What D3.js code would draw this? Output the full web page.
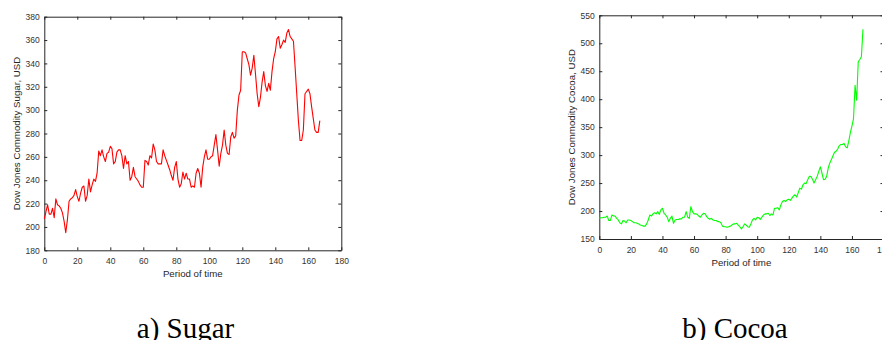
<!DOCTYPE html>
<html>
<head>
<meta charset="utf-8">
<script src="https://cdn.jsdelivr.net/npm/d3@7"></script>
<style>
  body { margin: 0; background: #fff; }
  svg { display: block; }
  .axis text { font-family: "Liberation Sans", Arial, sans-serif; font-size: 8.5px; fill: #333; }
  .axis path, .axis line { stroke: #262626; }
  .label { font-family: "Liberation Sans", Arial, sans-serif; font-size: 9.7px; fill: #262626; }
  .caption { font-size: 29px; fill: #000; }
</style>
</head>
<body>
<div id="chart"></div>
<script>
// Dow Jones Commodity Sugar, USD (period 0..167)
const sugar = [
  207, 213, 219, 211, 211, 216, 208, 224, 219, 218,
  216, 212, 205, 195, 206, 222, 224, 225, 227, 232,
  226, 222, 229, 234, 235, 222, 227, 241, 230, 236,
  241, 239, 246, 265, 261, 266, 260, 256, 263, 264,
  269, 267, 254, 256, 264, 266, 266, 261, 250, 261,
  254, 256, 240, 243, 251, 243, 241, 239, 236, 234,
  234, 257, 256, 253, 261, 259, 271, 266, 256, 254,
  254, 254, 266, 261, 257, 253, 249, 244, 240, 251,
  256, 241, 234, 237, 247, 241, 246, 241, 241, 234,
  235, 234, 246, 250, 246, 234, 251, 260, 266, 258,
  258, 260, 261, 270, 279, 266, 252, 263, 270, 283,
  270, 263, 262, 277, 281, 276, 278, 300, 313, 317,
  350, 350, 349, 344, 339, 330, 336, 347, 331, 314,
  303, 311, 324, 333, 321, 316, 323, 317, 333, 344,
  350, 361, 363, 353, 356, 360, 358, 366, 369, 363,
  361, 359, 337, 314, 291, 274, 274, 283, 314, 316,
  318, 314, 303, 293, 283, 281, 281, 291
];

// Dow Jones Commodity Cocoa, USD (period 0..167)
const cocoa = [
  187, 188, 188, 189, 189, 191, 183, 183, 193, 191,
  191, 187, 184, 179, 177, 183, 182, 179, 184, 184,
  183, 181, 179, 179, 178, 177, 175, 174, 173, 173,
  177, 184, 193, 191, 195, 197, 195, 199, 194, 202,
  205, 196, 193, 189, 181, 187, 191, 178, 184, 185,
  185, 186, 186, 189, 189, 199, 189, 187, 208, 199,
  195, 195, 194, 191, 189, 193, 196, 195, 190, 187,
  185, 187, 184, 183, 183, 181, 181, 179, 173, 172,
  172, 171, 172, 173, 175, 177, 177, 178, 175, 172,
  168, 172, 177, 175, 172, 171, 177, 184, 187, 184,
  189, 188, 185, 189, 193, 195, 195, 196, 192, 195,
  193, 205, 205, 206, 202, 211, 217, 219, 217, 220,
  221, 219, 223, 227, 229, 225, 233, 241, 239, 247,
  250, 249, 256, 262, 262, 257, 250, 256, 262, 271,
  279, 268, 256, 257, 262, 277, 286, 292, 299, 305,
  307, 311, 317, 319, 319, 321, 315, 313, 325, 340,
  352, 365, 425, 398, 467, 471, 476, 525
];

const xTicks = [0, 20, 40, 60, 80, 100, 120, 140, 160, 180];
const sugarTicks = [180, 200, 220, 240, 260, 280, 300, 320, 340, 360, 380];
const cocoaTicks = [150, 200, 250, 300, 350, 400, 450, 500, 550];

const svg = d3.select("#chart").append("svg")
  .attr("width", 882)
  .attr("height", 340);

function drawPanel(opts) {
  const x = d3.scaleLinear().domain([0, 180]).range([opts.left, opts.right]);
  const y = d3.scaleLinear().domain(opts.yDomain).range([opts.bottom, opts.top]);
  const g = svg.append("g");

  // frame with inward ticks on all four sides
  g.append("g").attr("class", "axis")
    .attr("transform", "translate(0," + opts.bottom + ")")
    .call(d3.axisBottom(x).tickValues(xTicks).tickSizeInner(-3).tickSizeOuter(0).tickPadding(8));
  g.append("g").attr("class", "axis")
    .attr("transform", "translate(0," + opts.top + ")")
    .call(d3.axisTop(x).tickValues(xTicks).tickSizeInner(-3).tickSizeOuter(0).tickFormat(""));
  g.append("g").attr("class", "axis")
    .attr("transform", "translate(" + opts.left + ",0)")
    .call(d3.axisLeft(y).tickValues(opts.yTicks).tickSizeInner(-3).tickSizeOuter(0).tickPadding(4.5));
  g.append("g").attr("class", "axis")
    .attr("transform", "translate(" + opts.right + ",0)")
    .call(d3.axisRight(y).tickValues(opts.yTicks).tickSizeInner(-3).tickSizeOuter(0).tickFormat(""));

  const line = d3.line()
    .x((d, i) => x(i))
    .y(d => y(d));

  g.append("path")
    .datum(opts.data)
    .attr("fill", "none")
    .attr("stroke", opts.color)
    .attr("stroke-width", 1.1)
    .attr("stroke-linejoin", "round")
    .attr("d", line);

  // axis labels
  g.append("text").attr("class", "label")
    .attr("x", (opts.left + opts.right) / 2)
    .attr("y", opts.bottom + 27)
    .attr("text-anchor", "middle")
    .text("Period of time");
  g.append("text").attr("class", "label")
    .attr("transform", "translate(" + (opts.left - 24) + "," + ((opts.top + opts.bottom) / 2) + ") rotate(-90)")
    .attr("text-anchor", "middle")
    .text(opts.yLabel);

  // caption under the panel
  svg.append("text").attr("class", "caption")
    .attr("x", opts.captionX)
    .attr("y", 337.5)
    .attr("text-anchor", "middle")
    .style("font-family", "'Liberation Serif', 'Times New Roman', Times, 'DejaVu Serif', 'Noto Serif', serif")
    .text(opts.caption);
}

drawPanel({
  data: sugar, color: "#ff0000",
  left: 44.3, right: 341.3, top: 16.7, bottom: 250.3,
  yDomain: [180, 380], yTicks: sugarTicks,
  yLabel: "Dow Jones Commodity Sugar, USD",
  caption: "a) Sugar", captionX: 185.5
});

drawPanel({
  data: cocoa, color: "#00ff00",
  left: 599.3, right: 883.5, top: 15.3, bottom: 239,
  yDomain: [150, 550], yTicks: cocoaTicks,
  yLabel: "Dow Jones Commodity Cocoa, USD",
  caption: "b) Cocoa", captionX: 735
});
</script>
</body>
</html>
